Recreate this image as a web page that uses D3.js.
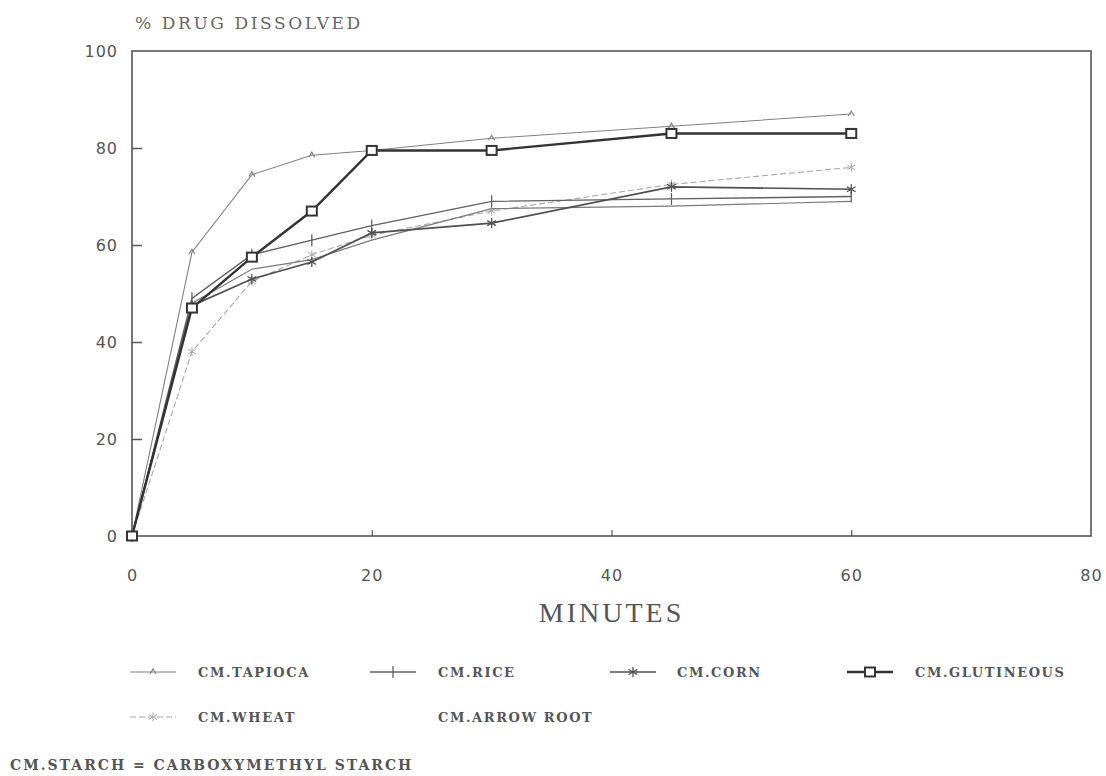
<!DOCTYPE html>
<html><head><meta charset="utf-8">
<script src="https://cdn.jsdelivr.net/npm/d3@7"></script>
<style>body{margin:0;background:#fff}svg{display:block}</style>
</head><body>
<script>
const minutes = [0, 5, 10, 15, 20, 30, 45, 60];
const tapioca = [0, 58.5, 74.5, 78.5, 79.5, 82, 84.5, 87];
const rice = [0, 49, 58, 61, 64, 69, 69.5, 70];
const corn = [0, 47.5, 53, 56.5, 62.5, 64.5, 72, 71.5];
const glutineous = [0, 47, 57.5, 67, 79.5, 79.5, 83, 83];
const wheat = [0, 38, 52.5, 58, 62, 67, 72.5, 76];
const arrowRoot = [0, 48, 55, 57, 61, 67.5, 68, 69];
const xTicks = [0, 20, 40, 60, 80];
const yTicks = [0, 20, 40, 60, 80, 100];
const seriesNames = ["CM.TAPIOCA", "CM.RICE", "CM.CORN", "CM.GLUTINEOUS", "CM.WHEAT", "CM.ARROW ROOT"];

const W = 1106, H = 776;
const m = {left: 132, right: 1091, top: 51, bottom: 536};
const svg = d3.select("body").append("svg").attr("width", W).attr("height", H);
const x = d3.scaleLinear().domain([0, 80]).range([m.left, m.right]);
const y = d3.scaleLinear().domain([0, 100]).range([m.bottom, m.top]);

const serif = "'DejaVu Serif', 'Liberation Serif', serif";
const sans = "'DejaVu Sans', sans-serif";

// frame
svg.append("rect").attr("x", m.left).attr("y", m.top)
  .attr("width", m.right - m.left).attr("height", m.bottom - m.top)
  .attr("fill", "none").attr("stroke", "#555").attr("stroke-width", 1.6);

// axes (ticks inside)
const yAxis = d3.axisLeft(y).tickValues(yTicks).tickSize(-10).tickPadding(14);
const gy = svg.append("g").attr("transform", `translate(${m.left},0)`).call(yAxis);
gy.select(".domain").remove();
gy.selectAll("line").attr("stroke", "#555").attr("stroke-width", 1.5)
  .filter(d => d === 0 || d === 100).remove();
gy.selectAll("text").attr("font-family", sans).attr("font-size", 16)
  .attr("fill", "#555").attr("letter-spacing", 1);

const xAxis = d3.axisBottom(x).tickValues(xTicks).tickSize(-6).tickPadding(34);
const gx = svg.append("g").attr("transform", `translate(0,${m.bottom})`).call(xAxis);
gx.select(".domain").remove();
gx.selectAll("line").attr("stroke", "#555").attr("stroke-width", 1.2)
  .filter(d => d === 0 || d === 80).remove();
gx.selectAll("text").attr("font-family", sans).attr("font-size", 16)
  .attr("fill", "#555").attr("letter-spacing", 1);

// titles
svg.append("text").attr("x", 135).attr("y", 29).text("% DRUG DISSOLVED")
  .attr("font-family", serif).attr("font-size", 17).attr("fill", "#666").attr("letter-spacing", 2.6);
svg.append("text").attr("x", x(40)).attr("y", 622).attr("text-anchor", "middle").text("MINUTES")
  .attr("font-family", "'Liberation Serif', serif").attr("font-size", 28).attr("fill", "#555")
  .attr("letter-spacing", 3);

const line = d3.line().x((d, i) => x(minutes[i])).y(d => y(d));

const styles = [
  {data: tapioca, stroke: "#808080", width: 1.1, dash: null, marker: "tri"},
  {data: rice, stroke: "#606060", width: 1.4, dash: null, marker: "tick"},
  {data: corn, stroke: "#505050", width: 1.7, dash: null, marker: "star"},
  {data: glutineous, stroke: "#333", width: 2.4, dash: null, marker: "square"},
  {data: wheat, stroke: "#a8a8a8", width: 1.1, dash: "6,3", marker: "star2"},
  {data: arrowRoot, stroke: "#7a7a7a", width: 1.2, dash: null, marker: null}
];

function drawMarker(g, type, cx, cy, stroke) {
  if (type === "tri") {
    g.append("path").attr("d", `M${cx-3},${cy+2}L${cx},${cy-3}L${cx+3},${cy+2}`)
      .attr("fill", "none").attr("stroke", stroke).attr("stroke-width", 1.2);
  } else if (type === "tick") {
    g.append("line").attr("x1", cx).attr("x2", cx).attr("y1", cy - 6).attr("y2", cy + 6)
      .attr("stroke", stroke).attr("stroke-width", 1.3);
  } else if (type === "star" || type === "star2") {
    const r = type === "star" ? 5 : 4.5;
    const sw = type === "star" ? 1.3 : 1;
    [[0, 1], [0.87, 0.5], [0.87, -0.5]].forEach(([dx, dy]) => {
      g.append("line").attr("x1", cx - dx * r).attr("x2", cx + dx * r)
        .attr("y1", cy - dy * r).attr("y2", cy + dy * r)
        .attr("stroke", stroke).attr("stroke-width", sw);
    });
  } else if (type === "square") {
    g.append("rect").attr("x", cx - 5).attr("y", cy - 4.5).attr("width", 10).attr("height", 9)
      .attr("fill", "#fff").attr("stroke", stroke).attr("stroke-width", 2);
  }
}

// draw series (light first)
const order = [4, 5, 0, 1, 2, 3];
order.forEach(k => {
  const s = styles[k];
  const g = svg.append("g");
  g.append("path").datum(s.data).attr("d", line).attr("fill", "none")
    .attr("stroke", s.stroke).attr("stroke-width", s.width)
    .attr("stroke-dasharray", s.dash);
  if (s.marker) s.data.forEach((v, i) => drawMarker(g, s.marker, x(minutes[i]), y(v), s.stroke));
});

// legend
const legendPos = [
  {lx: 130, tx: 198, ly: 672}, {lx: 370, tx: 438, ly: 672}, {lx: 610, tx: 677, ly: 672},
  {lx: 847, tx: 915, ly: 672}, {lx: 130, tx: 198, ly: 717}, {lx: 370, tx: 438, ly: 717}
];
seriesNames.forEach((name, k) => {
  const p = legendPos[k], s = styles[k];
  const g = svg.append("g");
  if (k !== 5) {
    g.append("line").attr("x1", p.lx).attr("x2", p.lx + 46).attr("y1", p.ly).attr("y2", p.ly)
      .attr("stroke", s.stroke).attr("stroke-width", s.width).attr("stroke-dasharray", s.dash);
    drawMarker(g, s.marker, p.lx + 23, p.ly, s.stroke);
  }
  g.append("text").attr("x", p.tx).attr("y", p.ly + 5).text(name)
    .attr("font-family", serif).attr("font-size", 13).attr("font-weight", "bold")
    .attr("fill", "#555").attr("letter-spacing", 1.6);
});

svg.append("text").attr("x", 10).attr("y", 770).text("CM.STARCH = CARBOXYMETHYL STARCH")
  .attr("font-family", serif).attr("font-size", 14).attr("font-weight", "bold")
  .attr("fill", "#555").attr("letter-spacing", 2);
</script>
</body></html>
